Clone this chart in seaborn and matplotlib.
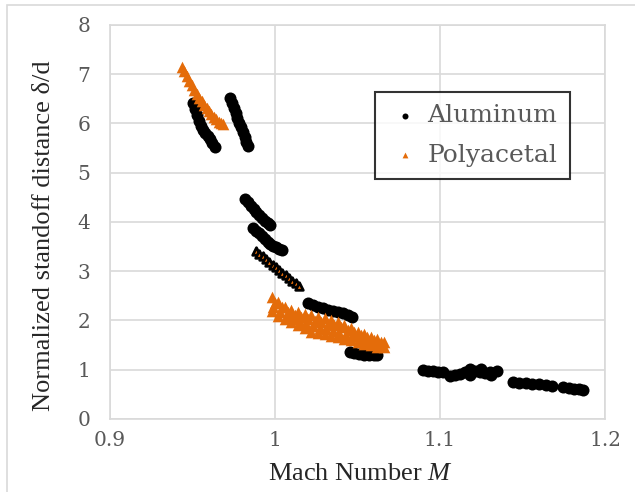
import pandas as pd
import seaborn as sns
import matplotlib.pyplot as plt
from matplotlib.patches import Rectangle

# Aluminum (black circles)
al_x = [0.9503, 0.9515, 0.9527, 0.9540, 0.9552, 0.9564, 0.9578, 0.9592, 0.9606, 0.9620, 0.9636,
        0.9727, 0.9738, 0.9750, 0.9761, 0.9772, 0.9783, 0.9794, 0.9805, 0.9816, 0.9826, 0.9836,
        0.9818, 0.9835, 0.9852, 0.9870, 0.9887, 0.9905, 0.9922, 0.9940, 0.9955, 0.9970,
        0.9867, 0.9885, 0.9903, 0.9920, 0.9938, 0.9955, 0.9972, 0.9990, 1.0008, 1.0025, 1.0042,
        1.020, 1.023, 1.026, 1.029, 1.032, 1.035, 1.038, 1.041, 1.044, 1.0467,
        1.0455, 1.048, 1.051, 1.054, 1.057, 1.060, 1.0618,
        1.0897, 1.093, 1.096, 1.099, 1.1018,
        1.106, 1.109, 1.112, 1.115, 1.118, 1.121, 1.124, 1.127, 1.130, 1.1345, 1.118, 1.125, 1.131,
        1.144, 1.148, 1.152, 1.156, 1.160, 1.164, 1.168,
        1.1745, 1.178, 1.181, 1.184, 1.1867]
al_y = [6.42, 6.30, 6.18, 6.06, 5.95, 5.86, 5.80, 5.74, 5.68, 5.60, 5.52,
        6.52, 6.42, 6.32, 6.22, 6.12, 6.02, 5.92, 5.82, 5.72, 5.62, 5.54,
        4.47, 4.40, 4.33, 4.27, 4.21, 4.15, 4.09, 4.03, 3.98, 3.94,
        3.88, 3.82, 3.77, 3.72, 3.66, 3.60, 3.56, 3.52, 3.49, 3.46, 3.44,
        2.36, 2.32, 2.28, 2.25, 2.22, 2.20, 2.18, 2.15, 2.12, 2.08,
        1.36, 1.33, 1.31, 1.30, 1.29, 1.29, 1.29,
        0.99, 0.98, 0.97, 0.96, 0.95,
        0.88, 0.89, 0.91, 0.95, 1.02, 0.98, 0.96, 0.94, 0.96, 0.98, 0.90, 1.02, 0.90,
        0.75, 0.74, 0.74, 0.72, 0.71, 0.69, 0.66,
        0.65, 0.62, 0.61, 0.60, 0.58]

# Polyacetal (orange triangles): upper run, then the wide band as four rows
pa_x = [0.9436, 0.9450, 0.9465, 0.9480, 0.9495, 0.9510, 0.9525, 0.9540, 0.9555, 0.9570, 0.9585,
        0.9600, 0.9615, 0.9630, 0.9645, 0.9660, 0.9675, 0.9685,
        0.998, 1.002, 1.006, 1.010, 1.014, 1.018, 1.022, 1.026, 1.030, 1.034, 1.038, 1.042,
        1.046, 1.050, 1.054, 1.058, 1.062, 1.066,
        1.000, 1.004, 1.008, 1.012, 1.016, 1.020, 1.024, 1.028, 1.032, 1.036, 1.040, 1.044,
        1.048, 1.052, 1.056, 1.060, 1.064,
        0.999, 1.003, 1.007, 1.011, 1.015, 1.019, 1.023, 1.027, 1.031, 1.035, 1.039, 1.043,
        1.047, 1.051, 1.055, 1.059, 1.063,
        0.998, 1.002, 1.006, 1.010, 1.014, 1.018, 1.022, 1.026, 1.030, 1.034, 1.038, 1.042,
        1.046, 1.050, 1.054, 1.058, 1.062, 1.066]
pa_y = [7.15, 7.06, 6.96, 6.87, 6.78, 6.69, 6.60, 6.52, 6.45, 6.38, 6.31,
        6.25, 6.19, 6.14, 6.09, 6.04, 6.00, 5.98,
        2.48, 2.38, 2.28, 2.22, 2.17, 2.14, 2.12, 2.08, 2.05, 2.01, 1.97, 1.90,
        1.84, 1.77, 1.72, 1.67, 1.62, 1.57,
        2.36, 2.27, 2.18, 2.12, 2.07, 2.03, 1.99, 1.96, 1.93, 1.90, 1.86, 1.81,
        1.76, 1.70, 1.66, 1.61, 1.56,
        2.27, 2.17, 2.09, 2.03, 1.97, 1.92, 1.88, 1.85, 1.82, 1.79, 1.75, 1.71,
        1.68, 1.63, 1.59, 1.55, 1.51,
        2.20, 2.10, 2.03, 1.97, 1.90, 1.84, 1.77, 1.74, 1.72, 1.69, 1.66, 1.63,
        1.60, 1.56, 1.53, 1.50, 1.47, 1.46]

# black-edged triangles between the aluminum runs
tri_x = [0.9885, 0.9905, 0.9925, 0.9945, 0.9965, 0.9985, 1.0005, 1.0025, 1.0045, 1.0065,
         1.0085, 1.0105, 1.0125, 1.0145]
tri_y = [3.42, 3.36, 3.30, 3.24, 3.18, 3.13, 3.08, 3.02, 2.97, 2.92, 2.87, 2.81, 2.76, 2.70]

x_ticks = [0.9, 1.0, 1.1, 1.2]
x_labels = ['0.9', '1', '1.1', '1.2']
y_ticks = list(range(0, 9))

orange = '#E46C0A'
gray_txt = '#595959'

al = pd.DataFrame({'M': al_x, 'd': al_y})
pa = pd.DataFrame({'M': pa_x, 'd': pa_y})
tri = pd.DataFrame({'M': tri_x, 'd': tri_y})

sns.set_style('white')
plt.rcParams['mathtext.fontset'] = 'custom'
plt.rcParams['mathtext.rm'] = 'Liberation Serif'
plt.rcParams['mathtext.it'] = 'Liberation Serif:italic'

fig = plt.figure(figsize=(6.35, 4.92), dpi=100)
ax = fig.add_axes([0.1732, 0.1484, 0.7796, 0.8008])

sns.scatterplot(data=al, x='M', y='d', ax=ax, color='black', marker='o', s=75,
                linewidth=0, label='Aluminum', zorder=3)
sns.scatterplot(data=tri, x='M', y='d', ax=ax, color=orange, marker='^', s=30,
                edgecolor='black', linewidth=2.0, label='_nolegend_', zorder=3)
sns.scatterplot(data=pa, x='M', y='d', ax=ax, color=orange, marker='^', s=70,
                linewidth=0, label='Polyacetal', zorder=4)

ax.set_xlim(0.9, 1.2)
ax.set_ylim(0, 8)
ax.set_xticks(x_ticks)
ax.set_xticklabels(x_labels)
ax.set_yticks(y_ticks)
ax.grid(True, color='#D9D9D9', linewidth=1.2)
ax.set_axisbelow(True)
for sp in ax.spines.values():
    sp.set_color('#D9D9D9')
    sp.set_linewidth(1.2)
ax.tick_params(axis='both', length=0, labelsize=14.5, labelcolor=gray_txt)
ax.tick_params(axis='y', pad=14)
ax.tick_params(axis='x', pad=9)
for lab in ax.get_xticklabels() + ax.get_yticklabels():
    lab.set_family('DejaVu Serif')

ax.set_xlabel('Mach Number $\\mathit{M}$', family='Liberation Serif', fontsize=19)
ax.set_ylabel('Normalized standoff distance δ/d', family='Liberation Serif', fontsize=19)
ax.xaxis.set_label_coords(0.505, -0.112)
ax.yaxis.set_label_coords(-0.112, 0.464)

leg = ax.legend(loc='upper left', bbox_to_anchor=(0.535, 0.83), borderaxespad=0,
                frameon=True, fancybox=False, edgecolor='black', markerscale=0.5,
                handletextpad=0.15, handlelength=1.45, borderpad=0.5, labelspacing=0.65,
                prop={'family': 'DejaVu Serif', 'size': 18})
leg.get_frame().set_linewidth(1.5)
for t in leg.get_texts():
    t.set_color(gray_txt)

fig.patches.append(Rectangle((0.011, -0.05), 1.2, 1.04, transform=fig.transFigure,
                             fill=False, edgecolor='#D9D9D9', linewidth=1.2))

fig.savefig('out.png', dpi=100)
